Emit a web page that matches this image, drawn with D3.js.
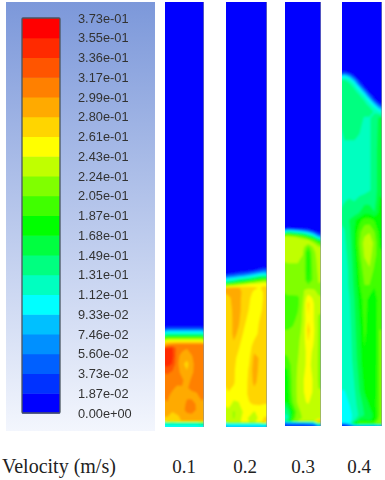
<!DOCTYPE html>
<html>
<head>
<meta charset="utf-8">
<script src="https://d3js.org/d3.v7.min.js"></script>
<title>Velocity contours</title>
<style>
  html, body { margin: 0; padding: 0; background: #fff; }
  svg { display: block; }
</style>
</head>
<body>
<div id="chart"></div>
<script type="text/javascript">

// legend labels, top to bottom
var tickLabels = ["3.73e-01","3.55e-01","3.36e-01","3.17e-01","2.99e-01","2.80e-01","2.61e-01","2.43e-01","2.24e-01","2.05e-01","1.87e-01","1.68e-01","1.49e-01","1.31e-01","1.12e-01","9.33e-02","7.46e-02","5.60e-02","3.73e-02","1.87e-02","0.00e+00"];
// band colours, lowest band first
var bandColors = ["#0000ff","#0030ff","#0060ff","#0090ff","#00c0ff","#00ffff","#00ffc0","#00ff80","#00ff40","#00ff00","#40ff00","#80ff00","#c0ff00","#ffff00","#ffd500","#ffaa00","#ff8000","#ff5500","#ff2a00","#ff0000"];
var velocities = ["0.1","0.2","0.3","0.4"];

// each case: heights of the sampled rows (px down the column) and the values read
// off the picture, in units of 1e-3, one line per row
var rows1 = [2,325,328,331,334,337,340,344,348,356,364,372,380,388,396,404,410,416,421,423,427];
var field1 = [
  [0,0,0,0,0,0,0,0],
  [0,0,0,0,0,0,0,0],
  [30,30,30,30,30,30,30,30],
  [85,85,85,85,85,85,85,85],
  [125,125,125,125,125,125,125,125],
  [190,190,190,190,190,190,190,190],
  [240,240,240,240,240,240,240,240],
  [290,295,300,300,300,300,300,300],
  [340,340,310,305,300,310,310,310],
  [350,345,305,292,288,298,310,312],
  [345,335,305,284,274,292,310,312],
  [320,315,306,292,282,296,306,310],
  [310,310,306,302,292,302,306,306],
  [306,302,296,298,298,302,302,302],
  [302,294,290,297,297,294,297,302],
  [298,292,288,292,302,306,297,297],
  [288,286,292,292,306,310,297,292],
  [282,268,277,286,292,292,287,286],
  [272,262,272,282,282,282,282,282],
  [125,125,125,125,125,125,125,150],
  [105,105,105,105,105,105,105,105]
];

var rows2 = [2,266,270,273,276,279,282,285,288,292,298,310,322,334,346,358,370,382,394,404,412,418,422,424,427];
var field2 = [
  [0,0,0,0,0,0,0,0],
  [0,0,0,0,0,0,0,0],
  [0,0,0,0,5,15,30,45],
  [8,15,25,35,45,60,75,85],
  [50,60,70,80,95,110,125,135],
  [100,110,125,135,145,165,180,190],
  [140,155,170,185,200,215,225,235],
  [215,225,235,245,255,255,260,260],
  [280,284,282,272,266,264,260,264],
  [286,290,287,274,267,258,254,264],
  [276,286,286,272,264,252,248,266],
  [270,285,285,272,260,247,252,270],
  [266,285,282,267,250,247,262,275],
  [266,285,276,257,247,252,266,275],
  [266,276,264,247,250,271,276,278],
  [266,268,254,246,257,286,279,276],
  [265,264,252,247,264,291,276,273],
  [265,264,249,250,266,286,273,271],
  [260,253,247,252,266,271,269,266],
  [251,237,242,250,259,263,263,261],
  [236,222,232,246,251,241,251,256],
  [240,222,238,248,241,236,246,263],
  [236,236,241,246,243,241,249,275],
  [110,110,110,110,110,110,110,130],
  [85,85,85,85,85,85,85,85]
];

var rows3 = [2,225,228,231,234,237,240,243,247,252,260,270,280,290,298,304,312,320,330,340,352,365,380,392,402,412,418,421,423,426];
var field3 = [
  [0,0,0,0,0,0,0],
  [0,0,0,0,0,0,0],
  [15,10,5,0,0,0,0],
  [110,100,85,70,50,20,0],
  [190,175,160,150,120,85,30],
  [235,228,220,205,180,150,85],
  [240,235,235,235,225,200,160],
  [240,235,235,235,230,225,200],
  [235,232,230,230,200,225,225],
  [232,230,228,225,180,220,230],
  [225,225,225,222,178,215,230],
  [222,222,222,220,178,212,228],
  [220,222,222,222,182,210,225],
  [215,215,218,222,230,225,222],
  [200,200,200,222,255,240,225],
  [198,198,200,225,265,245,225],
  [198,198,205,228,262,245,225],
  [200,200,210,228,260,245,222],
  [205,208,215,230,268,248,222],
  [210,212,220,232,262,245,222],
  [212,215,222,235,250,240,222],
  [190,215,225,238,248,238,222],
  [180,212,228,240,258,240,222],
  [175,212,228,240,255,240,225],
  [172,205,228,240,245,235,225],
  [140,180,215,232,235,230,228],
  [125,190,220,225,225,225,240],
  [150,205,225,225,225,230,290],
  [60,60,60,60,70,85,200],
  [30,30,30,30,30,30,60]
];

var rows4 = [2,68,72,76,80,84,88,92,96,100,104,108,112,118,150,190,200,213,220,232,243,255,270,285,300,330,360,390,405,415,420,423,424,426];
var field4 = [
  [0,0,0,0,0,0,0,0],
  [0,0,0,0,0,0,0,0],
  [25,5,0,0,0,0,0,0],
  [100,70,15,0,0,0,0,0],
  [132,122,70,5,0,0,0,0],
  [138,134,115,40,0,0,0,0],
  [140,138,130,95,20,0,0,0],
  [140,140,136,125,75,5,0,0],
  [140,140,140,134,115,50,0,0],
  [140,140,140,138,130,100,25,0],
  [140,140,140,140,135,125,85,20],
  [140,140,140,140,138,134,118,80],
  [140,140,140,140,135,135,130,118],
  [140,140,140,135,130,130,135,155],
  [127,127,127,127,127,130,135,165],
  [125,125,125,125,125,130,135,165],
  [130,132,130,135,140,140,140,170],
  [135,138,140,150,165,165,150,175],
  [135,150,165,180,195,195,185,175],
  [130,145,170,200,218,222,205,180],
  [128,140,170,205,232,244,215,185],
  [125,138,165,200,226,232,212,190],
  [122,135,160,190,215,222,200,190],
  [120,135,155,185,205,205,190,195],
  [120,130,150,175,195,180,172,200],
  [118,125,145,165,190,180,172,205],
  [116,122,140,160,185,180,172,205],
  [112,118,130,150,172,178,175,205],
  [104,112,125,140,155,170,178,205],
  [98,105,120,135,150,160,172,205],
  [96,100,130,160,170,165,175,215],
  [95,110,170,205,200,200,205,225],
  [40,90,150,170,170,170,170,190],
  [20,20,60,60,60,60,60,60]
];

var panelRows = [rows1, rows2, rows3, rows4];
var panelFields = [field1, field2, field3, field4];
var panelLeft = [165, 226, 285, 342];
var panelRight = [204, 267, 321, 382];
var labelX = [184, 245, 303, 359];

var svg = d3.select("#chart").append("svg").attr("width", 385).attr("height", 480);
var defs = svg.append("defs");

var grad = defs.append("linearGradient").attr("id", "bg").attr("x1", 0).attr("x2", 0).attr("y1", 0).attr("y2", 1);
grad.append("stop").attr("offset", "0%").attr("stop-color", "#7c98da");
grad.append("stop").attr("offset", "100%").attr("stop-color", "#f3f6fd");

defs.append("filter").attr("id", "soft").append("feGaussianBlur").attr("stdDeviation", 0.8);
defs.append("filter").attr("id", "softer").append("feGaussianBlur").attr("stdDeviation", 0.3);

// legend
svg.append("rect").attr("x", 6).attr("y", 2).attr("width", 149).attr("height", 429).attr("fill", "url(#bg)");

var y = d3.scalePoint().domain(tickLabels).range([18, 413]);
var bar = svg.append("g").attr("filter", "url(#softer)");

bandColors.forEach(function (c, i) {
  // band i sits between the label i up from the bottom and the next one
  var lo = tickLabels[tickLabels.length - 1 - i], hi = tickLabels[tickLabels.length - 2 - i];
  bar.append("rect").attr("x", 22).attr("width", 38)
    .attr("y", y(hi)).attr("height", y(lo) - y(hi) + 0.5)
    .attr("fill", c);
});
bar.append("rect").attr("x", 22).attr("y", 18).attr("width", 38).attr("height", 395).attr("rx", 1)
  .attr("fill", "none").attr("stroke", "#4a5560").attr("stroke-width", 1.3);

var axis = svg.append("g").attr("transform", "translate(72,0)").attr("filter", "url(#softer)")
  .call(d3.axisRight(y).tickSize(0).tickPadding(6));
axis.select(".domain").remove();
axis.selectAll("text")
  .style("font-family", "'Liberation Sans', Arial, sans-serif")
  .style("font-size", "12.8px")
  .attr("fill", "#333");

// contour panels
var levels = tickLabels.slice().reverse().slice(0, bandColors.length).map(function (d) { return +d * 1000; });

panelFields.forEach(function (field, p) {
  var rowY = panelRows[p];
  var nx = field[0].length, ny = field.length;
  var values = d3.merge(field);
  var left = panelLeft[p], right = panelRight[p];
  var cell = (right - left) / nx;

  // outer edge pushed out by a few px so the blur doesn't fade at the clip
  var sx = d3.scaleLinear().domain([0, 0.5, nx - 0.5, nx])
    .range([left - 4, left + cell / 2, right - cell / 2, right + 4]);
  var dom = [0], rng = [rowY[0] - 4];
  rowY.forEach(function (v, i) { dom.push(i + 0.5); rng.push(v); });
  dom.push(ny); rng.push(rowY[ny - 1] + 4);
  var sy = d3.scaleLinear().domain(dom).range(rng);

  var path = d3.geoPath(d3.geoTransform({
    point: function (a, b) { this.stream.point(sx(a), sy(b)); }
  }));

  var contours = d3.contours().size([nx, ny]).thresholds(levels)(values);

  var clipId = "clip" + p;
  defs.append("clipPath").attr("id", clipId).append("rect")
    .attr("x", left).attr("y", rowY[0])
    .attr("width", right - left).attr("height", rowY[ny - 1] - rowY[0]);

  var g = svg.append("g").attr("clip-path", "url(#" + clipId + ")").append("g").attr("filter", "url(#soft)");
  g.selectAll("path").data(contours).enter().append("path")
    .attr("d", path)
    .attr("fill", function (d, i) { return bandColors[i]; });

  // thin wall on the right of the domain
  svg.append("line")
    .attr("x1", right - 0.5).attr("x2", right - 0.5)
    .attr("y1", rowY[0]).attr("y2", rowY[ny - 1])
    .attr("stroke", "#8a8f98").attr("stroke-opacity", 0.6).attr("stroke-width", 1);
});

// bottom labels
svg.append("text").attr("x", 2).attr("y", 473).text("Velocity (m/s)")
  .style("font-family", "'Liberation Serif', 'Times New Roman', serif")
  .style("font-size", "20px").attr("fill", "#222");

svg.selectAll("text.vel").data(velocities).enter().append("text")
  .attr("class", "vel")
  .attr("x", function (d, i) { return labelX[i]; })
  .attr("y", 473)
  .attr("text-anchor", "middle")
  .style("font-family", "'Liberation Serif', 'Times New Roman', serif")
  .style("font-size", "19px")
  .attr("fill", "#222")
  .text(function (d) { return d; });

</script>
</body>
</html>
